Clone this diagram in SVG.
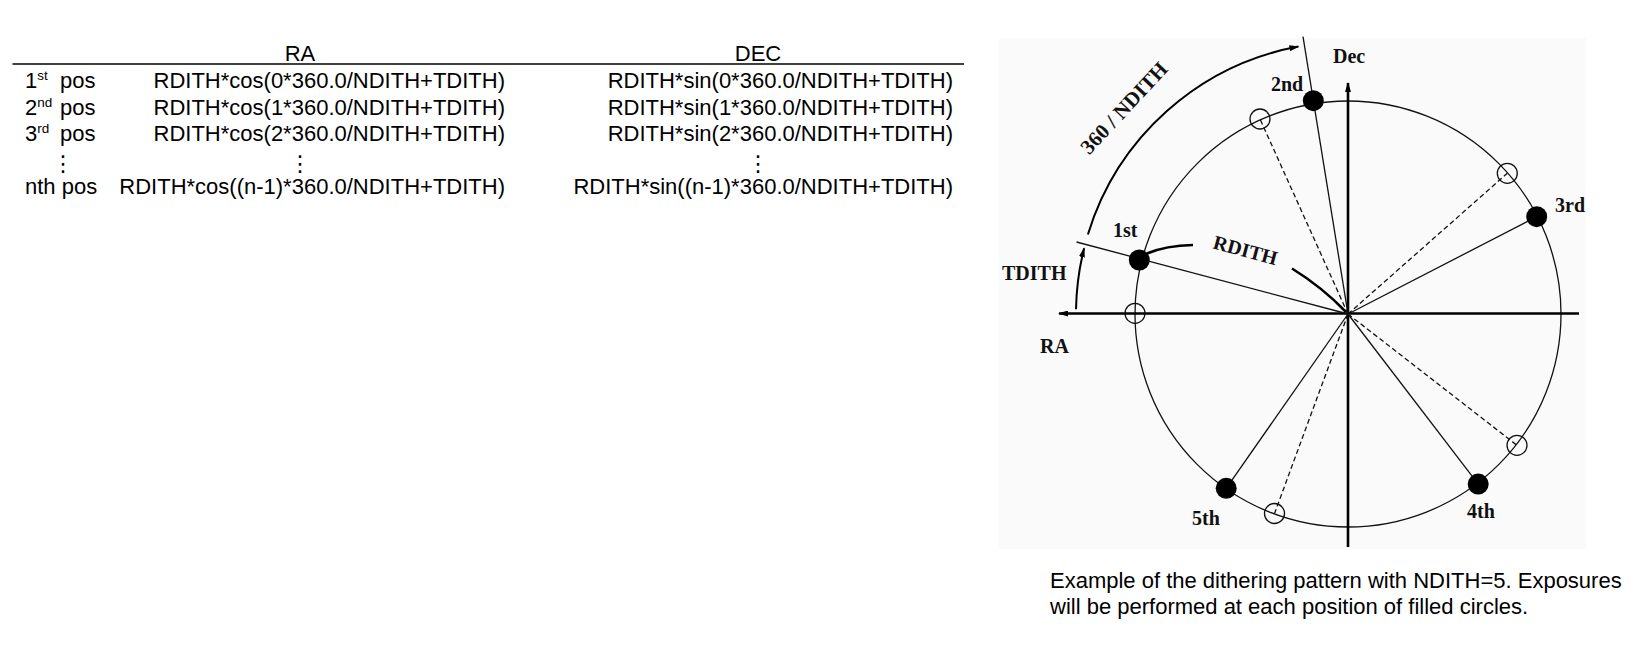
<svg xmlns="http://www.w3.org/2000/svg" width="1644" height="662" viewBox="0 0 1644 662">
<style>
.t{font-family:"Liberation Sans",Arial,sans-serif;font-size:22px;fill:#000}
.sup{font-size:13.5px}
.e{text-anchor:end}
.m{text-anchor:middle}
.vd{font-family:"DejaVu Sans",sans-serif;font-size:22px;text-anchor:middle;fill:#000}
.lb{font-family:"Liberation Serif","Times New Roman",serif;font-size:20px;font-weight:bold;fill:#111}
.thin{stroke:#111;stroke-width:1.3;fill:none}
.dash{stroke:#111;stroke-width:1.3;fill:none;stroke-dasharray:5 3}
.axis{stroke:#000;stroke-width:2.6;fill:none}
.arc{stroke:#000;stroke-width:2;fill:none}
.thick{stroke:#000;stroke-width:2.6;fill:none}
.dot{fill:#000}
.open{fill:none;stroke:#111;stroke-width:1.3}
</style>
<defs>
<marker id="ah" viewBox="0 0 10 6" refX="9" refY="3" markerWidth="10" markerHeight="6" markerUnits="userSpaceOnUse" orient="auto"><path d="M0,0 L10,3 L0,6 z" fill="#000"/></marker>
</defs>
<rect width="1644" height="662" fill="#fff"/>

<g id="table">
<text class="t m" x="300" y="61">RA</text>
<text class="t m" x="758" y="61">DEC</text>
<line x1="12.5" y1="64" x2="964" y2="64" stroke="#000" stroke-width="1.3"/>
<text class="t" x="25" y="88.4">1<tspan class="sup" dy="-8">st</tspan><tspan x="60" dy="8">pos</tspan></text>
<text class="t" x="25" y="114.6">2<tspan class="sup" dy="-8">nd</tspan><tspan x="60" dy="8">pos</tspan></text>
<text class="t" x="25" y="140.9">3<tspan class="sup" dy="-8">rd</tspan><tspan x="60" dy="8">pos</tspan></text>
<text class="t" x="25" y="194.4">nth pos</text>
<text class="t e" x="505" y="88.4">RDITH*cos(0*360.0/NDITH+TDITH)</text>
<text class="t e" x="505" y="114.6">RDITH*cos(1*360.0/NDITH+TDITH)</text>
<text class="t e" x="505" y="140.9">RDITH*cos(2*360.0/NDITH+TDITH)</text>
<text class="t e" x="505" y="194.4">RDITH*cos((n-1)*360.0/NDITH+TDITH)</text>
<text class="t e" x="953" y="88.4">RDITH*sin(0*360.0/NDITH+TDITH)</text>
<text class="t e" x="953" y="114.6">RDITH*sin(1*360.0/NDITH+TDITH)</text>
<text class="t e" x="953" y="140.9">RDITH*sin(2*360.0/NDITH+TDITH)</text>
<text class="t e" x="953" y="194.4">RDITH*sin((n-1)*360.0/NDITH+TDITH)</text>
<text class="vd" x="63" y="171">⋮</text>
<text class="vd" x="300" y="171">⋮</text>
<text class="vd" x="758" y="171">⋮</text>
</g>

<rect x="999" y="38" width="587" height="511" fill="#fafafa"/>

<g id="connectors">
<circle class="thin" cx="1348" cy="314" r="213"/>
<line class="axis" x1="1579" y1="313.5" x2="1059" y2="313.5" marker-end="url(#ah)"/>
<line class="axis" x1="1348" y1="547" x2="1348" y2="83" marker-end="url(#ah)"/>
<line class="thin" x1="1348" y1="314" x2="1076.5" y2="242"/>
<line class="thin" x1="1348" y1="314" x2="1303" y2="36.6"/>
<line class="thin" x1="1348" y1="314" x2="1536.7" y2="216.7"/>
<line class="thin" x1="1348" y1="314" x2="1478.2" y2="484.1"/>
<line class="thin" x1="1348" y1="314" x2="1226.2" y2="488.3"/>
<line class="dash" x1="1348" y1="314" x2="1260" y2="119"/>
<line class="dash" x1="1348" y1="314" x2="1507.3" y2="173.3"/>
<line class="dash" x1="1348" y1="314" x2="1517" y2="445.3"/>
<line class="dash" x1="1348" y1="314" x2="1274.5" y2="513.5"/>
<path class="arc" d="M1076,309.3 A272,272 0 0 1 1084.1,248.2" marker-end="url(#ah)"/>
<path class="arc" d="M1087.9,234.5 A272,272 0 0 1 1298.4,46.6" marker-end="url(#ah)"/>
<path class="thick" d="M1147,253.5 Q1166,245.5 1193,245"/>
<path class="thick" d="M1292,268.5 Q1322,287 1346,312"/>
</g>

<g id="pos1"><circle class="dot" cx="1139.3" cy="260" r="10.5"/><text class="lb" x="1113" y="237">1st</text></g>
<g id="pos2"><circle class="dot" cx="1313.3" cy="100.7" r="10.5"/><text class="lb" x="1271" y="90.5">2nd</text></g>
<g id="pos3"><circle class="dot" cx="1536.7" cy="216.7" r="10.5"/><text class="lb" x="1555" y="212">3rd</text></g>
<g id="pos4"><circle class="dot" cx="1478.2" cy="484.1" r="10.5"/><text class="lb" x="1467" y="518">4th</text></g>
<g id="pos5"><circle class="dot" cx="1226.2" cy="488.3" r="10.5"/><text class="lb" x="1192" y="525">5th</text></g>
<g id="open1"><circle class="open" cx="1135" cy="313.3" r="10"/></g>
<g id="open2"><circle class="open" cx="1260" cy="119" r="10"/></g>
<g id="open3"><circle class="open" cx="1507.3" cy="173.3" r="10"/></g>
<g id="open4"><circle class="open" cx="1517" cy="445.3" r="10"/></g>
<g id="open5"><circle class="open" cx="1274.5" cy="513.5" r="10"/></g>

<g id="labels">
<text class="lb" x="1333" y="63">Dec</text>
<text class="lb" x="1040" y="353">RA</text>
<text class="lb" x="1002" y="280">TDITH</text>
<text class="lb m" transform="translate(1245.5,250) rotate(15)" x="0" y="7">RDITH</text>
<text class="lb m" transform="translate(1124,108) rotate(-47)" x="0" y="7" style="font-size:21px">360 / NDITH</text>
</g>

<g id="caption">
<text class="t" x="1050" y="588">Example of the dithering pattern with NDITH=5. Exposures</text>
<text class="t" x="1050" y="614">will be performed at each position of filled circles.</text>
</g>
</svg>
